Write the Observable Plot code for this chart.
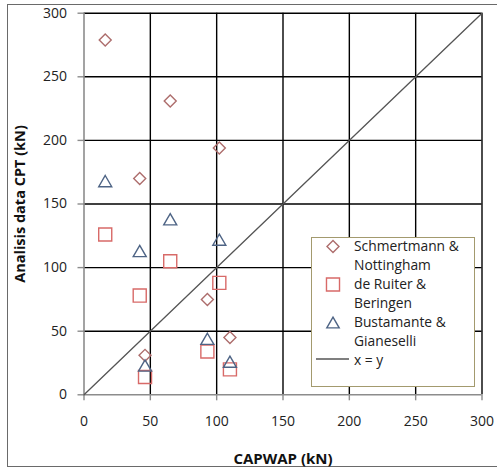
<!DOCTYPE html>
<html><head><meta charset="utf-8">
<script src="https://cdn.jsdelivr.net/npm/d3@7"></script>
<script src="https://cdn.jsdelivr.net/npm/@observablehq/plot@0.6"></script>
<style>
body{margin:0;background:#fff;}
#wrap{position:relative;width:497px;height:470px;overflow:hidden;font-family:"Open Sans",sans-serif;}
#border{position:absolute;left:7px;top:4px;width:510px;height:463px;border:1.5px solid #6a6a6a;box-sizing:border-box;}
#chart{position:absolute;left:0;top:0;}
#legend{position:absolute;left:311px;top:237px;width:164px;height:150px;border:1.5px solid #a39a6e;box-sizing:border-box;background:#fff;}
</style></head>
<body><div id="wrap"><div id="border"></div><div id="chart"></div><div id="legend"></div></div>
<script>
const capwap = [16, 42, 46, 65, 93, 102, 110];
const schmertmann = [279, 170, 31, 231, 75, 194, 45];
const deRuiter = [126, 78, 14, 105, 34, 88, 20];
const bustamante = [168, 113, 23, 138, 44, 122, 26];
const seriesNames = ["Schmertmann & Nottingham", "de Ruiter & Beringen", "Bustamante & Gianeselli"];
const lineName = "x = y";
const xTicks = [0, 50, 100, 150, 200, 250, 300];
const yTicks = [0, 50, 100, 150, 200, 250, 300];
const diagonal = [0, 300];
const xTitle = "CAPWAP (kN)";
const yTitle = "Analisis data CPT (kN)";

const colors = ["#ad6d6c", "#d86a68", "#4e6485"];

// triangle centered on its bounding box (Excel style)
const triBox = {draw(ctx, size){const s = Math.sqrt(size/Math.PI); const h = s*0.86;
  ctx.moveTo(0,-h); ctx.lineTo(s,h); ctx.lineTo(-s,h); ctx.closePath();}};

const rows = [];
[schmertmann, deRuiter, bustamante].forEach((vals, si) => {
  vals.forEach((v, i) => rows.push({series: seriesNames[si], si, x: capwap[i], y: v}));
});

const chart = Plot.plot({
  width: 497, height: 470,
  marginLeft: 83.5, marginRight: 15.5, marginTop: 12.7, marginBottom: 75.7,
  style: {fontFamily: "Open Sans", fontSize: "14px", color: "#222", background: "transparent"},
  x: {domain: [0, 300], label: null},
  y: {domain: [0, 300], label: null},
  marks: [
    Plot.gridX(xTicks.filter(d => d > 0), {stroke: "#000", strokeOpacity: 1, strokeWidth: 1.4}),
    Plot.gridY(yTicks.filter(d => d > 0), {stroke: "#000", strokeOpacity: 1, strokeWidth: 1.4}),
    Plot.ruleX([0], {stroke: "#8c8c8c", strokeWidth: 1.6}),
    Plot.ruleY([0], {stroke: "#8c8c8c", strokeWidth: 1.6}),
    Plot.axisX(xTicks, {tickSize: 6, tickPadding: 15, stroke: "#8c8c8c", strokeWidth: 1.4, fill: "#222", label: null}),
    Plot.axisY(yTicks, {tickSize: 6, tickPadding: 11, stroke: "#8c8c8c", strokeWidth: 1.4, fill: "#222", label: null}),
    Plot.line(diagonal, {x: d => d, y: d => d, stroke: "#555", strokeWidth: 1.3}),
    Plot.dot(rows.filter(d => d.si === 0), {x: "x", y: "y", symbol: "diamond2", r: 5.4, stroke: colors[0], strokeWidth: 1.4}),
    Plot.dot(rows.filter(d => d.si === 1), {x: "x", y: "y", symbol: "square2", r: 8.3, stroke: colors[1], strokeWidth: 1.4}),
    Plot.dot(rows.filter(d => d.si === 2), {x: "x", y: "y", symbol: triBox, r: 6.5, stroke: colors[2], strokeWidth: 1.4}),
    Plot.text([xTitle], {text: d => d, frameAnchor: "bottom", lineAnchor: "middle", textAnchor: "middle", dy: 64, fontWeight: "bold", fontSize: 15, fill: "#111"}),
    Plot.text([yTitle], {text: d => d, frameAnchor: "left", lineAnchor: "middle", textAnchor: "middle", dx: -64, rotate: -90, fontWeight: "bold", fontSize: 14.5, fill: "#111"})
  ]
});
document.getElementById("chart").appendChild(chart);

// legend
const leg = d3.select("#legend").append("svg").attr("width", 164).attr("height", 150)
  .style("position", "absolute").style("left", "-1.5px").style("top", "-1.5px")
  .style("font-family", "Open Sans").style("font-size", "13.8px");
const lines = [["Schmertmann &", "Nottingham"], ["de Ruiter &", "Beringen"], ["Bustamante &", "Gianeselli"]];
const step = 19;
const syms = [d3.symbol(d3.symbolDiamond2, Math.PI*5.4*5.4), d3.symbol(d3.symbolSquare2, Math.PI*8.3*8.3), d3.symbol(triBox, Math.PI*6.2*6.2)];
lines.forEach((ls, i) => {
  const y0 = 9.5 + i*2*step;
  leg.append("path").attr("d", syms[i]()).attr("transform", `translate(22,${y0})`)
    .attr("fill", "none").attr("stroke", colors[i]).attr("stroke-width", 1.4);
  ls.forEach((t, j) => leg.append("text").attr("x", 43).attr("y", y0 + j*step).attr("dy", "0.36em").attr("fill", "#222").text(t));
});
const yLine = 9.5 + 6*step;
leg.append("line").attr("x1", 5).attr("x2", 38).attr("y1", yLine - 1.5).attr("y2", yLine - 1.5).attr("stroke", "#555").attr("stroke-width", 1.3);
leg.append("text").attr("x", 43).attr("y", yLine).attr("dy", "0.36em").attr("fill", "#222").text(lineName);
</script>
</body></html>
